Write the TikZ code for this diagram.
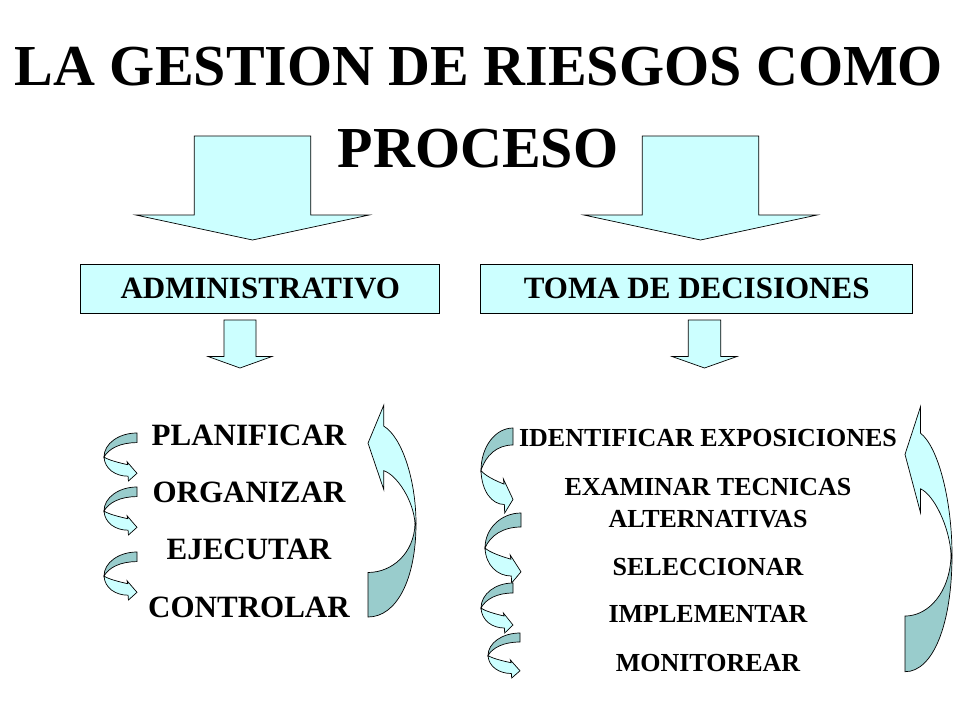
\documentclass[tikz,border=0pt]{standalone}
\usepackage{fontspec}
\setmainfont{Liberation Serif}
\usepackage{tikz}
\usetikzlibrary{positioning}
\definecolor{paleCyan}{RGB}{204,255,255}
\definecolor{darkCyan}{RGB}{153,204,204}

\begin{document}
\begin{tikzpicture}[x=1pt,y=-1pt,node distance=36pt,
	light face/.style={draw=black,fill=paleCyan,line width=0.7pt},
	dark face/.style={draw=black,fill=darkCyan,line width=0.7pt},
	heading/.style={font=\fontsize{58}{70}\selectfont\bfseries,anchor=base,inner sep=0pt},
	box/.style={light face,minimum height=49pt,inner sep=0pt,font=\fontsize{31}{37}\selectfont\bfseries},
	stepL/.style={font=\fontsize{31}{37}\selectfont\bfseries,inner sep=0pt,text height=21pt,text depth=0pt},
	stepR/.style={font=\fontsize{26}{32}\selectfont\bfseries,inner sep=0pt,anchor=base},
	downarrow/.pic={
		\filldraw[light face] (-0.5,0) -- (0.5,0) -- (0.5,0.76) -- (1,0.76) -- (0,1) -- (-1,0.76) -- (-0.5,0.76) -- cycle;
	},
	curly/.pic={
		\filldraw[dark face] (1,0) .. controls (0.45,0) and (0,0.22) .. (0,0.5)
			.. controls (0.15,0.32) and (0.5,0.2) .. (1,0.2) -- cycle;
		\filldraw[light face] (0,0.5) .. controls (0.02,0.75) and (0.35,0.9) .. (0.73,0.9)
			-- (0.74,1) -- (1,0.84) -- (0.7,0.6) -- (0.72,0.66)
			.. controls (0.45,0.62) and (0.12,0.56) .. (0,0.5) -- cycle;
	},
	loopback/.pic={
		\filldraw[light face] (0.33,0) -- (0.33,0.1) .. controls (0.7,0.15) and (1,0.35) .. (1,0.56)
			-- (0.98,0.56) .. controls (0.95,0.45) and (0.6,0.33) .. (0.33,0.31)
			-- (0.33,0.4) -- (0,0.18) -- cycle;
		\filldraw[dark face] (1,0.56) .. controls (1,0.82) and (0.6,1) .. (0,1)
			-- (0,0.79) .. controls (0.5,0.79) and (0.96,0.7) .. (0.98,0.56) -- cycle;
	}]
	\fill[white] (0,0) rectangle (960,720);
	\useasboundingbox (0,0) rectangle (960,720);

	% titulo
	\node[heading] (title1) at (479,85) {LA GESTION DE RIESGOS COMO};
	\node[heading] (title2) at (478,167) {PROCESO};

	\pic (bigL) [xscale=116.5,yscale=104] at (252.5,136) {downarrow};
	\pic (bigR) [xscale=116.5,yscale=104] at (700.5,136) {downarrow};

	\node[box,minimum width=359pt] (admin) at (260.3,288.5) {ADMINISTRATIVO};
	\node[box,minimum width=432pt] (toma) at (696.7,288.5) {TOMA DE DECISIONES};

	\pic (smallL) [xscale=32,yscale=48] at (240,320) {downarrow};
	\pic (smallR) [xscale=32.5,yscale=48] at (704.5,320) {downarrow};

	% lado administrativo
	\node[stepL,anchor=base] (plan) at (249,445) {PLANIFICAR};
	\node[stepL] (org) [below=of plan] {ORGANIZAR};
	\node[stepL] (ejec) [below=of org] {EJECUTAR};
	\node[stepL] (contr) [below=of ejec] {CONTROLAR};

	\pic[xscale=33,yscale=48] at (104,433) {curly};
	\pic[xscale=33,yscale=48] at (104,487) {curly};
	\pic[xscale=33,yscale=48] at (104,552) {curly};
	\pic[xscale=48,yscale=212] at (368,405) {loopback};

	% lado toma de decisiones
	\node[stepR] (ident) at (708,446.7) {IDENTIFICAR EXPOSICIONES};
	\node[stepR,align=center] (exam) at (708,527) {EXAMINAR TECNICAS\\ALTERNATIVAS};
	\node[stepR] (selec) at (708,575) {SELECCIONAR};
	\node[stepR] (impl) at (708,622.7) {IMPLEMENTAR};
	\node[stepR] (monit) at (708,671.7) {MONITOREAR};

	\pic[xscale=32,yscale=85] at (481,428) {curly};
	\pic[xscale=36,yscale=70] at (485,513) {curly};
	\pic[xscale=32,yscale=50] at (481,583) {curly};
	\pic[xscale=32,yscale=45] at (488,633) {curly};
	\pic[xscale=47,yscale=265] at (905,406.7) {loopback};
\end{tikzpicture}
\end{document}
